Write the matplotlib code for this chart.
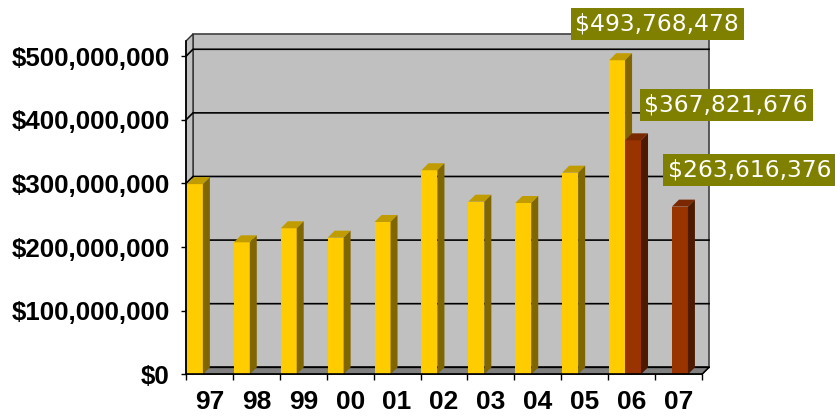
import matplotlib
matplotlib.use("Agg")
import matplotlib.pyplot as plt
from matplotlib.patches import Polygon, Rectangle
from matplotlib.ticker import FuncFormatter

# ---- data ----
categories = ["97", "98", "99", "00", "01", "02", "03", "04", "05", "06", "07"]
series_a = [299e6, 207.5e6, 229.6e6, 214.8e6, 239.5e6, 320.8e6, 271.4e6, 269.3e6, 317e6, 493768478, None]
series_b = [None, None, None, None, None, None, None, None, None, 367821676, 263616376]
labels_a = {9: "$493,768,478"}
labels_b = {9: "$367,821,676", 10: "$263,616,376"}
yticks = [0, 100e6, 200e6, 300e6, 400e6, 500e6]

# ---- figure / axes ----
W, H = 835, 420
fig = plt.figure(figsize=(W / 100, H / 100), dpi=100)
x0, x1, y0, y1 = 186, 702, 374.3, 41
ax = fig.add_axes([x0 / W, 1 - y0 / H, (x1 - x0) / W, (y0 - y1) / H])
N = len(categories)
YMAX = 524e6
ax.set_xlim(0, N)
ax.set_ylim(0, YMAX)

depth_px = 7
DX = depth_px * N / (x1 - x0)
DY = depth_px * YMAX / (y0 - y1)

wall = "#C0C0C0"
floor = "#808080"

# side wall
ax.add_patch(Polygon([(0, 0), (0, YMAX), (DX, YMAX + DY), (DX, DY)], closed=True,
                     facecolor=wall, edgecolor="#303030", lw=1, zorder=0.5, clip_on=False))
# back wall
ax.add_patch(Rectangle((DX, DY), N, YMAX, facecolor=wall, edgecolor="#404040", lw=1.2,
                       zorder=0.4, clip_on=False))
# floor
ax.add_patch(Polygon([(0, 0), (N, 0), (N + DX, DY), (DX, DY)], closed=True,
                     facecolor=floor, edgecolor="#303030", lw=1, zorder=0.6, clip_on=False))

# gridlines
for v in yticks:
    ax.plot([0, DX, N + DX], [v, v + DY, v + DY], color="black", lw=1.2, zorder=0.8,
            clip_on=False, solid_joinstyle="miter")

# bars
bar_w = 0.34
styles = [
    (series_a, 0.02, ("#FFCC00", "#C09C00", "#7F6600")),
    (series_b, 0.36, ("#993300", "#7A2800", "#4D1A00")),
]
z = 2
for i in range(N):
    for vals, off, (cf, ct, cs) in styles:
        h = vals[i]
        if h is None:
            continue
        x = i + off
        ax.add_patch(Rectangle((x, 0), bar_w, h, facecolor=cf, edgecolor="none", zorder=z, clip_on=False))
        ax.add_patch(Polygon([(x, h), (x + bar_w, h), (x + bar_w + DX, h + DY), (x + DX, h + DY)],
                             closed=True, facecolor=ct, edgecolor="none", zorder=z, clip_on=False))
        ax.add_patch(Polygon([(x + bar_w, 0), (x + bar_w, h), (x + bar_w + DX, h + DY), (x + bar_w + DX, DY)],
                             closed=True, facecolor=cs, edgecolor="none", zorder=z, clip_on=False))
        z += 0.1

# floor right edge
ax.plot([N, N + DX], [0, DY], color="black", lw=1, zorder=z, clip_on=False)

# spines / ticks
for s in ["top", "right"]:
    ax.spines[s].set_visible(False)
for s in ["left", "bottom"]:
    ax.spines[s].set_color("black")
    ax.spines[s].set_linewidth(1.2)
    ax.spines[s].set_zorder(z + 1)
ax.set_facecolor("none")

ax.set_yticks(yticks)
ax.yaxis.set_major_formatter(FuncFormatter(lambda v, p: "${:,.0f}".format(v)))
ax.tick_params(axis="y", direction="out", length=3.8, width=1, color="black", pad=8)
ax.set_xticks(range(N + 1))
ax.set_xticklabels([])
ax.set_xticks([i + 0.5 for i in range(N)], minor=True)
ax.set_xticklabels(categories, minor=True)
ax.tick_params(axis="x", which="major", direction="out", length=4.5, width=1, color="black")
ax.tick_params(axis="x", which="minor", length=0, pad=11.5)

for lab in ax.get_yticklabels():
    lab.set_fontfamily(["Liberation Sans", "DejaVu Sans"])
    lab.set_fontweight("bold")
    lab.set_fontsize(18.6)
for lab in ax.get_xticklabels(minor=True):
    lab.set_fontfamily(["Liberation Sans", "DejaVu Sans"])
    lab.set_fontweight("bold")
    lab.set_fontsize(19)

# value labels
def add_label(x, h, text, dx, dy):
    ax.annotate(text, xy=(x, h), xytext=(dx, dy), textcoords="offset pixels",
                ha="center", va="center", color="white", fontsize=16.8,
                family=["DejaVu Sans"], zorder=z + 2, annotation_clip=False,
                bbox=dict(boxstyle="square,pad=0.2", facecolor="#808000", edgecolor="none"))

for i, t in labels_a.items():
    add_label(i + 0.02 + bar_w / 2, series_a[i], t, 40, 36)
offs_b = {9: (93, 35.5), 10: (69.5, 36.7)}
for i, t in labels_b.items():
    add_label(i + 0.36 + bar_w / 2, series_b[i], t, *offs_b[i])

fig.savefig("out.png", dpi=100)
